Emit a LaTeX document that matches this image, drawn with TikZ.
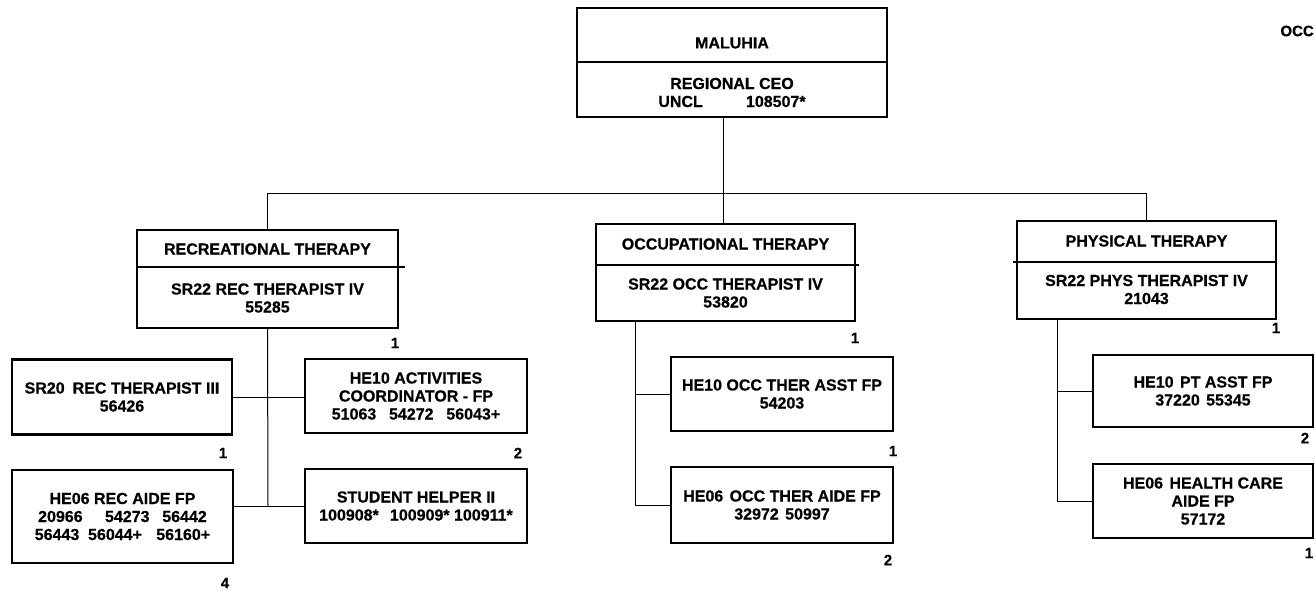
\documentclass[tikz,border=0pt]{standalone}
\usepackage{fontspec}
\setmainfont{Liberation Sans}[BoldFeatures={FakeBold=0.5}]
\usetikzlibrary{calc}
\begin{document}
\begin{tikzpicture}[x=1pt,y=-1pt,
  box/.style={draw, line width=2.2pt, inner sep=0pt, align=center,
    font=\bfseries\fontsize{16}{18}\selectfont},
  txt/.style={inner sep=0pt, align=center, font=\bfseries\fontsize{16}{18}\selectfont},
  divline/.style={line width=1.2pt},
  conn/.style={line width=1pt},
  cnt/.style={inner sep=0pt, font=\bfseries\fontsize{15}{17}\selectfont}]
\useasboundingbox (0,0) rectangle (1315,590);
\clip (0,0) rectangle (1315,590);
\fill[white] (0,0) rectangle (1315,590);

% top box
\node[box, minimum width=310pt, minimum height=109pt] (ceo) at (732,62.5) {};
\draw[divline] ([yshift=-55pt]ceo.north west) -- ([yshift=-55pt]ceo.north east);
\node[txt] (ceoT) at (732,43) {MALUHIA};
\node[txt] (ceoB) at (732,92.5) {REGIONAL CEO\\UNCL\hspace{2.7em}108507*};

% department boxes
\node[box, minimum width=261pt, minimum height=98pt] (rt) at (267.5,279) {};
\draw[divline] ([yshift=-38pt]rt.north west) -- ([yshift=-38pt,xshift=6pt]rt.north east);
\node[txt] (rtT) at (267.5,249) {RECREATIONAL THERAPY};
\node[txt] (rtB) at (267.5,298) {SR22 REC THERAPIST IV\\55285};

\node[box, minimum width=259pt, minimum height=97pt] (ot) at (725.5,272.5) {};
\draw[divline] ([yshift=-42pt]ot.north west) -- ([yshift=-42pt,xshift=3pt]ot.north east);
\node[txt] (otT) at (725.5,244) {OCCUPATIONAL THERAPY};
\node[txt] (otB) at (725.5,293) {SR22 OCC THERAPIST IV\\53820};

\node[box, minimum width=259pt, minimum height=98pt] (pt) at (1146.5,270) {};
\draw[divline] ([yshift=-42pt,xshift=-3pt]pt.north west) -- ([yshift=-42pt]pt.north east);
\node[txt] (ptT) at (1146.5,241) {PHYSICAL THERAPY};
\node[txt] (ptB) at (1146.5,289.5) {SR22 PHYS THERAPIST IV\\21043};

% level-1 connectors
\coordinate (bus) at (723,193);
\draw[conn] ([xshift=-9pt]ceo.south) -- (bus);
\draw[conn] (rt.north) -- (rt.north |- bus) -- (pt.north |- bus) -- (pt.north);
\draw[conn] (bus) -- (bus |- ot.north);

% recreational therapy staff
\node[box, minimum width=220pt, minimum height=75pt] (sr20) at (122,397) {SR20\hspace{0.5em}REC THERAPIST III\\56426};
\node[box, minimum width=221pt, minimum height=93pt] (he06r) at (122.5,516.5) {HE06 REC AIDE FP\\20966\hspace{1.4em}54273\hspace{0.8em}56442\\56443\hspace{0.55em}56044+\hspace{0.9em}56160+};
\node[box, minimum width=222pt, minimum height=74pt] (he10a) at (416,396) {HE10 ACTIVITIES\\COORDINATOR - FP\\51063\hspace{0.8em}54272\hspace{0.8em}56043+};
\node[box, minimum width=222pt, minimum height=74pt] (stud) at (416,506) {STUDENT HELPER II\\100908*\hspace{0.7em}100909* 100911*};
\coordinate (rbot) at (268,506);
\draw[conn] (rt.south) -- (rbot);
\draw[conn] (sr20.east) -- (sr20.east -| he10a.west);
\draw[conn] (stud.west) -- (stud.west -| he06r.east);

% occupational therapy staff
\node[box, minimum width=222pt, minimum height=74pt] (he10o) at (782,394) {HE10 OCC THER ASST FP\\54203};
\node[box, minimum width=222pt, minimum height=76pt] (he06o) at (782,505) {HE06\hspace{0.4em}OCC THER AIDE FP\\32972\hspace{0.4em}50997};
\coordinate (otx) at ([xshift=-90.5pt]ot.south);
\draw[conn] (otx) |- (he06o.west);
\draw[conn] (he10o.west) -- (he10o.west -| otx);

% physical therapy staff
\node[box, minimum width=220pt, minimum height=72pt] (he10p) at (1203,391) {HE10\hspace{0.4em}PT ASST FP\\37220\hspace{0.4em}55345};
\node[box, minimum width=220pt, minimum height=74pt] (he06p) at (1203,501) {HE06\hspace{0.4em}HEALTH CARE\\AIDE FP\\57172};
\coordinate (ptx) at ([xshift=-89.5pt]pt.south);
\draw[conn] (ptx) |- (he06p.west);
\draw[conn] (he10p.west) -- (he10p.west -| ptx);

% counts
\node[cnt] (c1) at (395,343) {1};
\node[cnt] (c2) at (223,453) {1};
\node[cnt] (c3) at (518,453) {2};
\node[cnt] (c4) at (225,583) {4};
\node[cnt] (c5) at (855,338) {1};
\node[cnt] (c6) at (893,451) {1};
\node[cnt] (c7) at (888,560) {2};
\node[cnt] (c8) at (1276,328) {1};
\node[cnt] (c9) at (1305,438) {2};
\node[cnt] (c10) at (1309,553) {1};

% text at the top right
\node[cnt, anchor=east] (occ) at (1314,31) {OCC};
\end{tikzpicture}
\end{document}
